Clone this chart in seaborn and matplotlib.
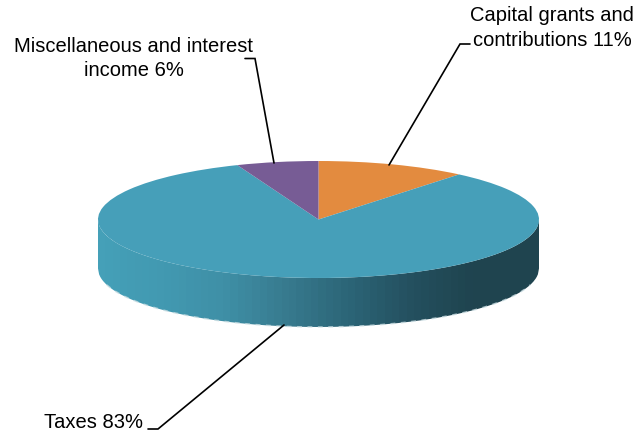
import numpy as np
import matplotlib
matplotlib.use("Agg")
import matplotlib.pyplot as plt
from matplotlib.patches import PathPatch
from matplotlib.path import Path
from matplotlib.transforms import Affine2D
import seaborn as sns

# Revenue shares, clockwise from twelve o'clock
categories = ["Capital grants and\ncontributions", "Taxes", "Miscellaneous and interest\nincome"]
shares = [11, 83, 6]
slice_colors = ["#E38B3F", "#469FB9", "#775C95"]

# Shading of the rim, left to right
rim_colors = ["#45A0B8", "#4299B1", "#3F8FA6", "#377A8E", "#2C6577", "#24505F", "#1F444F", "#1F444F"]

W, H = 638, 437
CX, CY, RX, RY, DEPTH = 318.5, 219.5, 220.5, 58.5, 49

sns.set_theme(style="white")
plt.rcParams["font.family"] = ["Liberation Sans", "DejaVu Sans"]

fig = plt.figure(figsize=(W / 100, H / 100), dpi=100, facecolor="white")
ax = fig.add_axes([0, 0, 1, 1])

# Rim below the top face
xs = np.linspace(-1, 1, 400)
front = -np.sqrt(1 - xs ** 2)
drop = DEPTH / RY
outline = np.vstack([np.c_[xs, front], np.c_[xs[::-1], front[::-1] - drop]])
rim = PathPatch(Path(outline, closed=False), transform=ax.transData, fc="none", ec="none")
ax.add_patch(rim)
ramp = np.array(sns.blend_palette(rim_colors, 60))[np.newaxis, :, :]
image = ax.imshow(ramp, extent=(-1, 1, -1 - drop, 0), aspect="auto", interpolation="nearest", zorder=1)
image.set_clip_path(rim)

# Pale flecks along the lower edge of the rim
ax.plot(xs[8:-8], front[8:-8] - drop, color="#C9DDE2", lw=1.1, alpha=0.75, zorder=2,
        dashes=(3.2, 3.6))

# Top face: a unit pie squashed by the unequal axis scales
ax.pie(shares, colors=slice_colors, startangle=90, counterclock=False, radius=1,
       wedgeprops={"linewidth": 0}, normalize=True)
for wedge in ax.patches:
    if wedge is not rim:
        wedge.set_zorder(3)

ax.set_aspect("auto")
ax.set_xlim(-CX / RX, (W - CX) / RX)
ax.set_ylim((CY - H) / RY, CY / RY)
ax.axis("off")

# Labels and leader lines are placed in pixels from the top-left corner
px = Affine2D().scale(1 / W, -1 / H).translate(0, 1) + fig.transFigure
labels = [f"{name} {share}%" for name, share in zip(categories, shares)]
label_pos = [(552, 28), (94, 423), (134, 58.5)]
leaders = [
    [(470, 44), (460, 44), (389, 165)],
    [(148, 429), (158, 429), (284, 325)],
    [(245, 58.5), (255, 58.5), (274, 163)],
]
for text, (tx, ty), pts in zip(labels, label_pos, leaders):
    ax.text(tx, ty, text, transform=px, ha="center", va="center", fontsize=14.5,
            color="black", linespacing=1.36, zorder=6)
    lx, ly = zip(*pts)
    ax.plot(lx, ly, transform=px, color="black", lw=1.2, zorder=5, solid_joinstyle="miter")

fig.savefig("out.png", dpi=100)
